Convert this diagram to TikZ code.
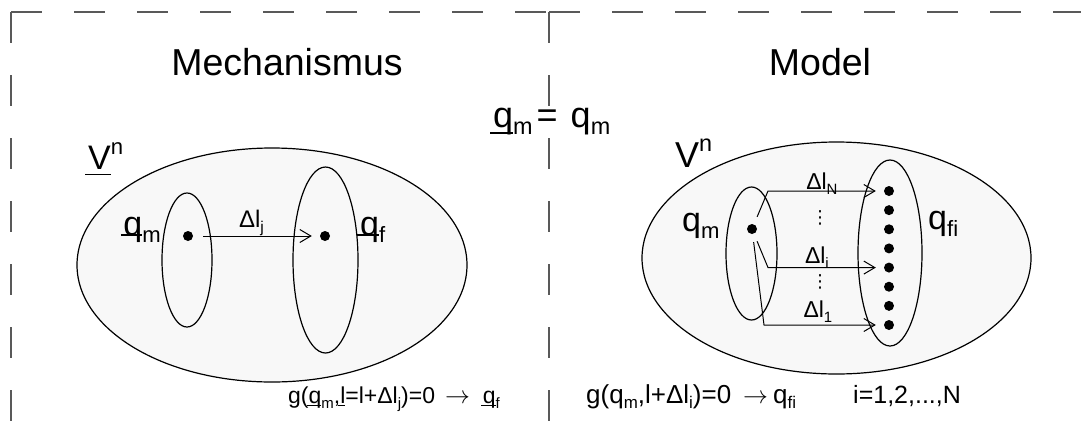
\documentclass[tikz,border=0pt]{standalone}
\usepackage{fontspec}
\setmainfont{Liberation Sans}
\newfontfamily\symfont{DejaVu Sans}
\usetikzlibrary{arrows.meta,shapes.geometric}

\definecolor{framegray}{HTML}{595959}
\definecolor{regionfill}{HTML}{F8F8F8}

\newcommand{\fs}[1]{\fontsize{#1}{#1}\selectfont}
\newcommand{\sub}[1]{\raisebox{-0.22em}{\scalebox{0.65}{#1}}}
\newcommand{\super}[1]{\raisebox{0.42em}{\scalebox{0.65}{#1}}}
\newsavebox{\ulinebox}
\newcommand{\uline}[2][0.14em]{\sbox{\ulinebox}{#2}%
  \rlap{\kern-0.08em\rule[-#1]{\dimexpr\wd\ulinebox+0.08em\relax}{0.055em}}\usebox{\ulinebox}}

\tikzset{
  frame/.style={draw=framegray, line width=2pt, dash pattern=on 31pt off 32pt},
  region/.style={ellipse, draw, fill=regionfill, line width=1.2pt, inner sep=0pt},
  dot/.style={circle, fill, inner sep=0pt, minimum size=10pt},
  flow/.style={-{Straight Barb[length=11pt,width=13pt]}, line width=1pt},
  title/.style={font=\fs{37.5}, inner sep=0pt},
  lbl/.style={inner sep=0pt}
}

\begin{document}
\begin{tikzpicture}[x=1pt, y=-1pt]
  \useasboundingbox (0,0) rectangle (1081,421);

  % dashed frame
  \draw[frame] (11,12) -- (11,421);
  \draw[frame] (11,12) -- (549,12);
  \draw[frame] (549,12) -- (549,421);
  \draw[frame] (549,12) -- (1081,12);

  \node[title, anchor=base] (mechTitle) at (287,75) {Mechanismus};
  \node[title, anchor=base] (modelTitle) at (820,75) {Model};
  \node[lbl, anchor=base west, font=\fs{36}] (qEqual) at (493,127)
    {\uline[0.2em]{q}\sub{m}\hspace{4pt}=\hspace{13pt}q\sub{m}};

  % Mechanismus
  \node[region, minimum width=390pt, minimum height=234pt] (spaceL) at (272,265) {};
  \node[region, minimum width=50pt, minimum height=134pt] (startL) at (187,260) {};
  \node[region, minimum width=65pt, minimum height=186pt] (goalL) at (325.5,260) {};
  \node[lbl, anchor=base west, font=\fs{34}] (VnL) at (88,169) {\uline[0.19em]{V}\super{n}};
  \node[dot] (qmL) at (188,236) {};
  \node[dot] (qfL) at (325,236) {};
  \node[lbl, anchor=base east, font=\fs{34}] (qmLabelL) at (161,235) {\uline[0.03em]{q}\sub{m}};
  \node[lbl, anchor=base west, font=\fs{34}] (qfLabelL) at (360,235) {\uline[0.03em]{q}\sub{f}};
  \draw[flow, shorten <=10pt, shorten >=8pt] (qmL)
    -- node[lbl, anchor=base, yshift=9pt, xshift=-5pt, font=\fs{24}]{Δl\sub{j}} (qfL);

  % Model
  \node[region, minimum width=389pt, minimum height=232pt] (spaceR) at (836.5,258) {};
  \node[region, minimum width=51pt, minimum height=133pt] (startR) at (751.5,253.5) {};
  \node[region, minimum width=64pt, minimum height=186pt] (goalR) at (890,253) {};
  \node[lbl, anchor=base west, font=\fs{36}] (VnR) at (675,167) {V\super{n}};
  \node[lbl, anchor=base west, font=\fs{34}] (qmLabelR) at (682,231) {q\sub{m}};
  \node[lbl, anchor=base west, font=\fs{34}] (qfiLabelR) at (928,229) {q\sub{fi}};
  \node[dot] (qmR) at (752,229) {};
  \foreach \k in {0,...,7}
    \node[dot] (qf\k) at (889,{191+19.143*\k}) {};
  \draw[flow, shorten <=8pt, shorten >=8pt] (qmR) -- ++(16,-38)
    -- node[lbl, anchor=base, yshift=1.5pt, xshift=-4pt, font=\fs{23}]{Δl\sub{N}} (qf0);
  \draw[flow, shorten <=8pt, shorten >=8pt] (qmR) -- ++(16,38.57)
    -- node[lbl, anchor=base, yshift=4pt, xshift=-9pt, font=\fs{23}]{Δl\sub{i}} (qf4);
  \draw[flow, shorten <=8pt, shorten >=8pt] (qmR) -- ++(12,96)
    -- node[lbl, anchor=base, yshift=8pt, xshift=-6pt, font=\fs{23}]{Δl\sub{1}} (qf7);
  \node[lbl, font=\fs{18}\symfont] (vdotsTop) at (820,218) {⋮};
  \node[lbl, font=\fs{18}\symfont] (vdotsBottom) at (820,282) {⋮};

  % conditions
  \node[lbl, anchor=base west, font=\fs{23}] (condL) at (288,403)
    {g(\uline{q}\sub{m},\uline{l}=l+Δl\sub{j})=0\hspace{10pt}$\rightarrow$\hspace{13pt}\uline{q}\sub{f}};
  \node[lbl, anchor=base west, font=\fs{26}] (condR) at (586,403)
    {g(q\sub{m},l+Δl\sub{i})=0\hspace{12pt}$\rightarrow$\hspace{5pt}q\sub{fi}};
  \node[lbl, anchor=base west, font=\fs{25}] (indexR) at (853,403) {i=1,2,...,N};
\end{tikzpicture}
\end{document}
